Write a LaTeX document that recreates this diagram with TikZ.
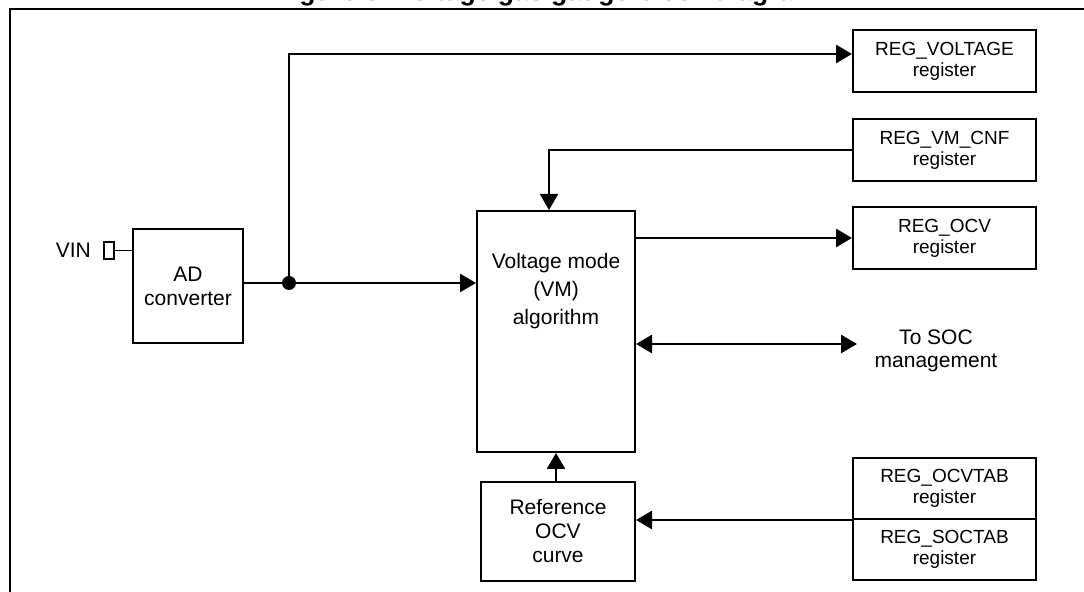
\documentclass[tikz,border=0pt]{standalone}
\usepackage{fontspec}
\setmainfont{Liberation Sans}
\usetikzlibrary{arrows.meta}

\tikzset{
    txt/.style={align=center, inner sep=0pt, font=\fontsize{10.5}{12}\selectfont},
    blk/.style={txt, draw, line width=1pt},
    reg/.style={draw, line width=1pt, inner sep=0pt, align=center,
        minimum width=91.5pt, minimum height=31pt, font=\fontsize{9.5}{10.4}\selectfont},
    sig/.style={line width=1.4pt, ->},
}

\begin{document}
\begin{tikzpicture}[x=0.5pt, y=-0.5pt, >={Triangle[length=8pt, width=9pt]}]
    \path[use as bounding box, clip] (0, 0) rectangle (1084, 592);

    \node[font=\bfseries\fontsize{13.3}{16}\selectfont, anchor=base] (title) at (546.5, 0.5) {Figure 6. Voltage gas gauge block diagram};
    \draw[line width=0.85pt] (10, 600) -- (10, 9) -- (1100, 9);

    \node[draw, line width=0.7pt, inner sep=0pt, minimum width=5pt, minimum height=8.5pt,
        label={[txt, label distance=6pt]left:VIN}] (VIN) at (109, 250.5) {};
    \node[blk, minimum width=55pt, minimum height=57pt] (AD) at (188, 286) {AD\\converter};
    \node[circle, fill, inner sep=0pt, minimum size=7pt] (dot) at (289, 283) {};

    \node[blk, minimum width=79pt, minimum height=120.5pt] (VM) at (556, 331.5) {};
    \node[txt, font=\fontsize{10.5}{13.9}\selectfont] (VMtxt) at (556, 291) {Voltage mode\\(VM)\\algorithm};
    \node[blk, minimum width=77pt, minimum height=49.5pt] (ref) at (558, 531.5) {Reference\\OCV\\curve};

    \node[reg] (vol) at (944.5, 61) {REG\_VOLTAGE\\register};
    \node[reg] (vmcnf) at (944.5, 150.5) {REG\_VM\_CNF\\register};
    \node[reg] (ocv) at (944.5, 238) {REG\_OCV\\register};
    \node[reg, minimum height=30.5pt] (ocvtab) at (944.5, 488.5) {REG\_OCVTAB\\register};
    \node[reg, minimum height=30.5pt] (soctab) at (944.5, 549.5) {REG\_SOCTAB\\register};

    \node[txt, font=\fontsize{10.5}{11.3}\selectfont] (soc) at (936, 351) {To SOC\\management};
    \coordinate (socin) at (857, 344);

    \draw[line width=0.7pt] (VIN.east) -- (VIN.east -| AD.west);
    \draw[line width=1.4pt] (AD.east |- dot) -- (dot);

    \begin{scope}[every path/.style={sig}]
        \draw (dot) -- (dot -| VM.west);
        \draw (dot) |- ([yshift=3.5pt]vol.west);
        \draw[line width=1pt] (vmcnf.west) -| ([xshift=-3.5pt]VM.north);
        \draw (VM.east |- ocv.west) -- (ocv.west);
        \draw[<->] (VM.east |- socin) -- (socin);
        \draw (ref.north -| VM.south) -- (VM.south);
        \draw (ocvtab.south west) -- (ocvtab.south west -| ref.east);
    \end{scope}
\end{tikzpicture}
\end{document}
